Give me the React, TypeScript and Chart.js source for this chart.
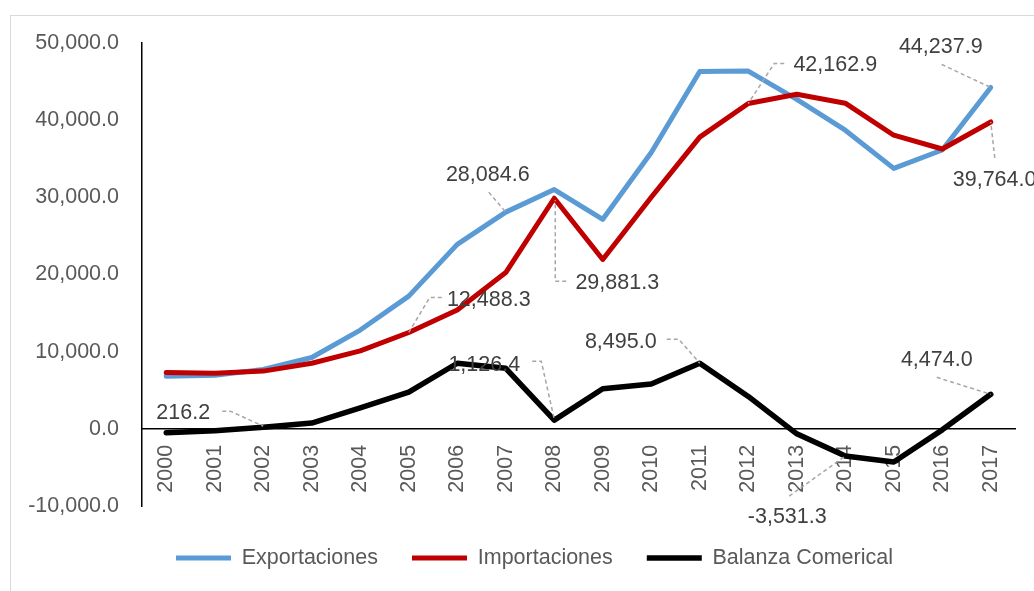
import { useEffect, useRef } from 'react';
import { Chart, registerables } from 'chart.js';

Chart.register(...registerables);

const years = ['2000', '2001', '2002', '2003', '2004', '2005', '2006', '2007', '2008', '2009', '2010', '2011', '2012', '2013', '2014', '2015', '2016', '2017'];
const exportaciones = [6800, 6950, 7700, 9250, 12800, 17200, 23900, 28084.6, 31007.7, 27150, 35800, 46300, 46360, 42700, 38700, 33750, 36130, 44237.9];
const importaciones = [7300, 7200, 7480, 8500, 10100, 12488.3, 15400, 20250, 29881.3, 21950, 30000, 37805, 42162.9, 43350, 42200, 38050, 36260, 39764.0];
const balanza = [-500, -250, 216.2, 750, 2700, 4750, 8500, 7850, 1126.4, 5200, 5800, 8495.0, 4200, -650, -3531.3, -4300, -130, 4474.0];
const seriesNames = ['Exportaciones', 'Importaciones', 'Balanza Comerical'];
const seriesColors = ['#5B9BD5', '#C00000', '#000000'];
const seriesWidths = [5, 5, 5.5];
const yMin = -10000;
const yMax = 50000;
const yStep = 10000;

// data label annotations: dataset, point index, text offset and leader path (relative to the point)
const notes = [
  { ds: 2, i: 2, dx: -80, dy: -14, align: 'center', leader: [[-41, -16], [-33, -16], [0, -1]] },
  { ds: 1, i: 5, dx: 80, dy: -32, align: 'center', leader: [[33, -35], [21, -35], [0, 0]] },
  { ds: 2, i: 8, dx: -70, dy: -55, align: 'center', leader: [[-22, -59], [-13, -59], [0, -1]] },
  { ds: 0, i: 7, dx: -18, dy: -37, align: 'center', leader: [[-17, -20], [0, 0]] },
  { ds: 1, i: 8, dx: 63, dy: 85, align: 'center', leader: [[12, 83], [1, 83], [1, 2]] },
  { ds: 1, i: 12, dx: 87, dy: -38, align: 'center', leader: [[36, -40], [26, -40], [0, 0]] },
  { ds: 0, i: 17, dx: -50, dy: -40, align: 'center', leader: [[-49, -23], [0, 0]] },
  { ds: 1, i: 17, dx: -38, dy: 58, align: 'left', leader: [[4, 36], [0, 0]] },
  { ds: 2, i: 11, dx: -79, dy: -21, align: 'center', leader: [[-33, -24], [-21, -24], [0, 0]] },
  { ds: 2, i: 14, dx: -58, dy: 61, align: 'center', leader: [[-56, 40], [0, 0]] },
  { ds: 2, i: 17, dx: -54, dy: -34, align: 'center', leader: [[-54, -17], [0, 0]] },
];

const FONT = "'Liberation Sans', Arial, sans-serif";
const FS = 21.5;
const fmt = (v: number) =>
  Number(v).toLocaleString('en-US', { minimumFractionDigits: 1, maximumFractionDigits: 1 });

export default function App() {
  const ref = useRef<HTMLCanvasElement>(null);

  useEffect(() => {
    if (!ref.current) return;
    const framePlugin = {
      id: 'frame',
      beforeDraw(chart: any) {
        const c = chart.ctx;
        c.save();
        c.fillStyle = '#ffffff';
        c.fillRect(0, 0, chart.width, chart.height);
        c.strokeStyle = '#d9d9d9';
        c.lineWidth = 1;
        c.strokeRect(10.5, 15.5, 1200, 800);
        c.restore();
      },
    };
    const notesPlugin = {
      id: 'notes',
      afterDraw(chart: any) {
        const c = chart.ctx;
        const xs = chart.scales.x;
        const ys = chart.scales.y;
        const all = [exportaciones, importaciones, balanza];
        c.save();
        notes.forEach((n) => {
          const v = all[n.ds][n.i];
          const px = xs.getPixelForValue(n.i);
          const py = ys.getPixelForValue(v);
          c.strokeStyle = '#a6a6a6';
          c.lineWidth = 1.5;
          c.setLineDash([4, 3]);
          c.beginPath();
          n.leader.forEach((p, k) => {
            if (k === 0) c.moveTo(px + p[0], py + p[1]);
            else c.lineTo(px + p[0], py + p[1]);
          });
          c.stroke();
          c.setLineDash([]);
          c.fillStyle = '#404040';
          c.font = `${FS}px ${FONT}`;
          c.textAlign = n.align as CanvasTextAlign;
          c.textBaseline = 'middle';
          c.fillText(fmt(v), px + n.dx, py + n.dy);
        });
        c.restore();
      },
    };

    const chart = new Chart(ref.current, {
      type: 'line',
      data: {
        labels: years,
        datasets: [exportaciones, importaciones, balanza].map((d, k) => ({
          label: seriesNames[k],
          data: d,
          borderColor: seriesColors[k],
          backgroundColor: seriesColors[k],
          borderWidth: seriesWidths[k],
          pointRadius: 0,
          tension: 0,
          fill: false,
          borderCapStyle: 'round' as const,
          borderJoinStyle: 'round' as const,
          order: k === 0 ? 2 : k === 1 ? 1 : 0,
        })),
      },
      options: {
        animation: false,
        responsive: false,
        layout: { padding: { left: 0, right: 19, top: 43, bottom: 12.25 } },
        plugins: {
          legend: {
            position: 'bottom',
            fullSize: false,
            align: 'start',
            title: { display: true, text: ' ', padding: 0, font: { size: 7.25, lineHeight: 1 } },
            labels: {
              usePointStyle: true,
              pointStyle: 'line',
              pointStyleWidth: 55,
              padding: 34,
              color: '#595959',
              font: { family: FONT, size: FS },
              sort: (a: any, b: any) => a.datasetIndex - b.datasetIndex,
            },
          },
          tooltip: { enabled: false },
        },
        scales: {
          x: {
            type: 'category',
            offset: true,
            position: { y: 0 } as any,
            grid: { display: false, drawTicks: false },
            border: { display: true, color: '#000000', width: 1.5 },
            ticks: {
              minRotation: 90,
              maxRotation: 90,
              autoSkip: false,
              padding: 16,
              color: '#595959',
              font: { family: FONT, size: FS },
            },
          },
          y: {
            min: yMin,
            max: yMax,
            grid: { display: false, drawTicks: false },
            border: { display: true, color: '#000000', width: 1.5 },
            ticks: {
              stepSize: yStep,
              padding: 23,
              color: '#595959',
              font: { family: FONT, size: FS },
              callback: (v: any) => fmt(v),
            },
            afterFit(s: any) {
              s.width = 142;
            },
          },
        },
      },
      plugins: [framePlugin, notesPlugin],
    } as any);
    return () => chart.destroy();
  }, []);

  return (
    <div style={{ position: 'absolute', left: 0, top: 0, width: 1034, height: 591, background: '#fff' }}>
      <canvas ref={ref} width={1034} height={591} style={{ display: 'block' }} />
    </div>
  );
}
